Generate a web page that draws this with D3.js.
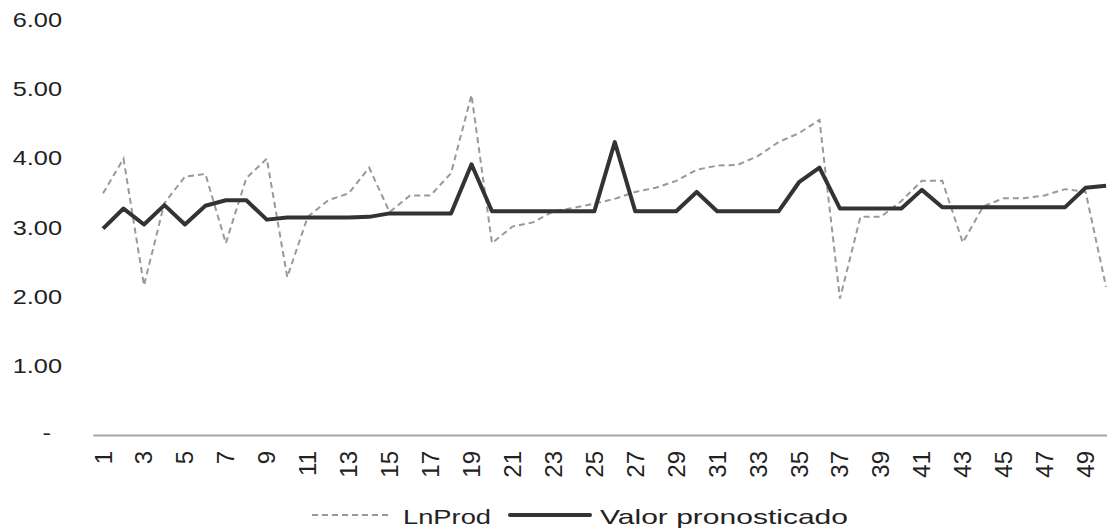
<!DOCTYPE html>
<html><head><meta charset="utf-8">
<script src="https://cdn.jsdelivr.net/npm/d3@7"></script>
<style>
html,body{margin:0;padding:0;background:#fff;}
svg{display:block;font-family:"Liberation Sans",Arial,sans-serif;}
</style></head>
<body><svg id="chart" width="1107" height="529"></svg>
<script>
const categories = d3.range(1, 51);
const lnProd = [3.49,3.99,2.16,3.35,3.73,3.77,2.77,3.71,3.99,2.28,
  3.15,3.39,3.49,3.86,3.22,3.46,3.46,3.78,4.91,2.77,
  3.01,3.07,3.23,3.28,3.34,3.41,3.51,3.57,3.67,3.83,
  3.89,3.90,4.03,4.23,4.36,4.55,1.97,3.15,3.15,3.38,
  3.67,3.67,2.78,3.30,3.42,3.42,3.46,3.55,3.51,2.14];
const pronostico = [2.98,3.27,3.04,3.32,3.04,3.31,3.39,3.39,3.11,3.14,
  3.14,3.14,3.14,3.15,3.20,3.20,3.20,3.20,3.91,3.23,
  3.23,3.23,3.23,3.23,3.23,4.23,3.23,3.23,3.23,3.51,
  3.23,3.23,3.23,3.23,3.65,3.86,3.27,3.27,3.27,3.27,
  3.54,3.29,3.29,3.29,3.29,3.29,3.29,3.29,3.57,3.60];
const yTicks = [0,1,2,3,4,5,6];
const xTickLabels = categories.filter(d => d % 2 === 1);
const seriesNames = ["LnProd", "Valor pronosticado"];

const svg = d3.select("#chart");
const SX = 1.3;
const x = d3.scaleBand().domain(categories).range([92.8, 92.8 + 50 * 20.47]).paddingInner(0);
const y = d3.scaleLinear().domain([0, 6]).range([435, 19.5]);
const cx = d => x(d) + x.bandwidth() / 2;

// y axis labels
const yAxis = svg.append("g");
yAxis.selectAll("text").data(yTicks).join("text")
  .attr("transform", d => d === 0 ? `translate(51,${y(d) - 1}) scale(${SX},1)` : `translate(62,${y(d) + 1}) scale(${SX},1)`)
  .attr("text-anchor", "end").attr("dominant-baseline", "central")
  .attr("font-size", 19.5).attr("fill", "#222")
  .text(d => d === 0 ? "-" : d.toFixed(2));

// x axis
const xAxisG = svg.append("g").attr("transform", `translate(0,${y(0)})`)
  .call(d3.axisBottom(x).tickValues(xTickLabels).tickSize(0).tickFormat(""));
xAxisG.select(".domain").attr("stroke", "#a6a6a6").attr("stroke-width", 2);
svg.append("g").selectAll("text").data(xTickLabels).join("text")
  .attr("transform", d => `translate(${cx(d)},451) rotate(-90)`)
  .attr("text-anchor", "end").attr("dominant-baseline", "central")
  .attr("font-size", 24).attr("fill", "#222")
  .text(d => d);

// lines
const line = d3.line().x((d, i) => cx(categories[i])).y(d => y(d));
svg.append("path").datum(lnProd).attr("d", line)
  .attr("fill", "none").attr("stroke", "#999").attr("stroke-width", 2)
  .attr("stroke-dasharray", "6,4");
svg.append("path").datum(pronostico).attr("d", line)
  .attr("fill", "none").attr("stroke", "#333").attr("stroke-width", 4)
  .attr("stroke-linejoin", "round");

// legend
const lg = svg.append("g");
lg.append("line").attr("x1", 312).attr("x2", 392).attr("y1", 515).attr("y2", 515)
  .attr("stroke", "#999").attr("stroke-width", 2).attr("stroke-dasharray", "6,4");
lg.append("text").attr("x", 403).attr("y", 516).attr("dominant-baseline", "central")
  .attr("font-size", 21).attr("fill", "#222")
  .attr("textLength", 88).attr("lengthAdjust", "spacingAndGlyphs").text(seriesNames[0]);
lg.append("line").attr("x1", 510).attr("x2", 590).attr("y1", 515).attr("y2", 515)
  .attr("stroke", "#333").attr("stroke-width", 4).attr("stroke-linecap", "round");
lg.append("text").attr("x", 600).attr("y", 516).attr("dominant-baseline", "central")
  .attr("font-size", 21).attr("fill", "#222")
  .attr("textLength", 248).attr("lengthAdjust", "spacingAndGlyphs").text(seriesNames[1]);
</script></body></html>
